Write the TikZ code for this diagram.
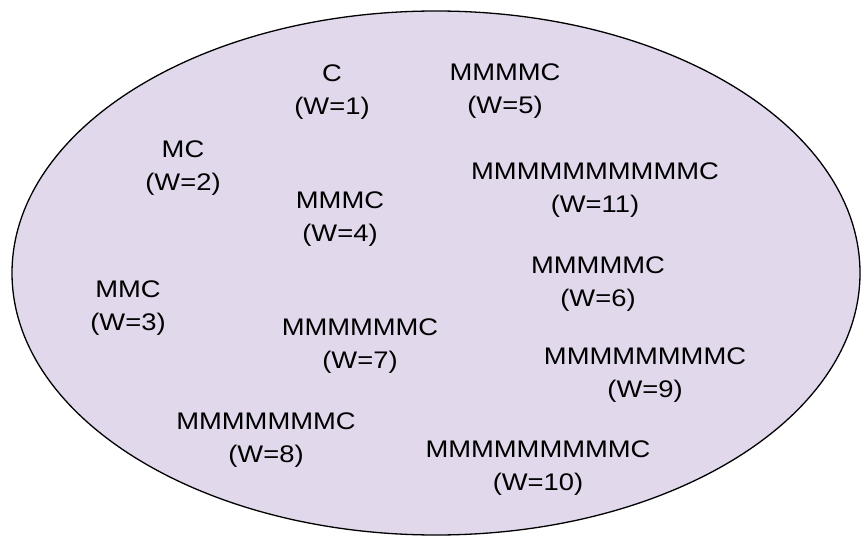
\documentclass[tikz,border=0pt]{standalone}
\usepackage{fontspec}
\setmainfont[FakeStretch=1.14]{Liberation Sans}
\definecolor{lav}{HTML}{E1D8EC}
\begin{document}
\begin{tikzpicture}[x=1pt,y=-1pt,
  lbl/.style={align=center, font=\fontsize{24}{33}\selectfont, inner sep=0pt}]
\useasboundingbox (0,0) rectangle (861,537);
\draw[fill=lav, line width=1.3pt] (436,273) ellipse [x radius=424, y radius=262];
\node[lbl] (w1)  at (332,92)  {C\\(W=1)};
\node[lbl] (w5)  at (505,91)  {MMMMC\\(W=5)};
\node[lbl] (w2)  at (183,168) {MC\\(W=2)};
\node[lbl] (w11) at (595,190) {MMMMMMMMMMC\\(W=11)};
\node[lbl] (w4)  at (340,219) {MMMC\\(W=4)};
\node[lbl] (w6)  at (598,284) {MMMMMC\\(W=6)};
\node[lbl] (w3)  at (128,308) {MMC\\(W=3)};
\node[lbl] (w7)  at (360,346) {MMMMMMC\\(W=7)};
\node[lbl] (w9)  at (645,375) {MMMMMMMMC\\(W=9)};
\node[lbl] (w8)  at (266,440) {MMMMMMMC\\(W=8)};
\node[lbl] (w10) at (538,468) {MMMMMMMMMC\\(W=10)};
\end{tikzpicture}
\end{document}
